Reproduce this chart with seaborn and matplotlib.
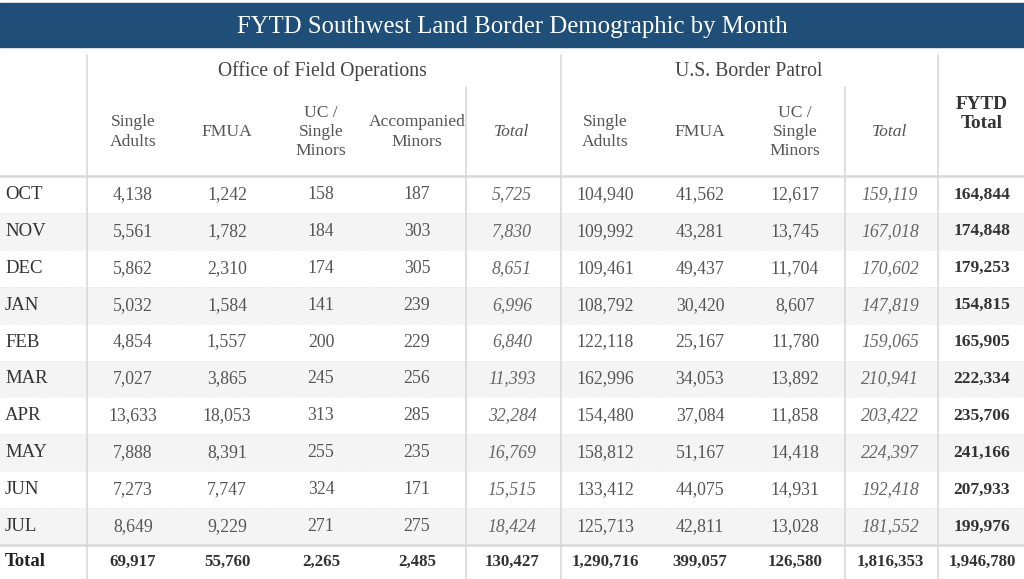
import matplotlib
matplotlib.use("Agg")
import matplotlib.pyplot as plt
import seaborn as sns
import numpy as np

sns.set_theme(style="white")
plt.rcParams['font.family'] = ['Liberation Serif', 'DejaVu Serif']

title = "FYTD Southwest Land Border Demographic by Month"
groups = ["Office of Field Operations", "U.S. Border Patrol"]
sub_headers = ["Single\nAdults", "FMUA", "UC /\nSingle\nMinors", "Accompanied\nMinors", "Total",
               "Single\nAdults", "FMUA", "UC /\nSingle\nMinors", "Total"]
fytd_header = "FYTD\nTotal"
months = ["OCT", "NOV", "DEC", "JAN", "FEB", "MAR", "APR", "MAY", "JUN", "JUL"]

ofo_single = [4138, 5561, 5862, 5032, 4854, 7027, 13633, 7888, 7273, 8649]
ofo_fmua = [1242, 1782, 2310, 1584, 1557, 3865, 18053, 8391, 7747, 9229]
ofo_uc = [158, 184, 174, 141, 200, 245, 313, 255, 324, 271]
ofo_acc = [187, 303, 305, 239, 229, 256, 285, 235, 171, 275]
ofo_total = [5725, 7830, 8651, 6996, 6840, 11393, 32284, 16769, 15515, 18424]
bp_single = [104940, 109992, 109461, 108792, 122118, 162996, 154480, 158812, 133412, 125713]
bp_fmua = [41562, 43281, 49437, 30420, 25167, 34053, 37084, 51167, 44075, 42811]
bp_uc = [12617, 13745, 11704, 8607, 11780, 13892, 11858, 14418, 14931, 13028]
bp_total = [159119, 167018, 170602, 147819, 159065, 210941, 203422, 224397, 192418, 181552]
fytd_total = [164844, 174848, 179253, 154815, 165905, 222334, 235706, 241166, 207933, 199976]
total_row = [69917, 55760, 2265, 2485, 130427, 1290716, 399057, 126580, 1816353, 1946780]

W, H = 1024, 579
fig = plt.figure(figsize=(W / 100, H / 100), dpi=100)

# Banded rows via seaborn heatmap
body_top, row_h = 176, 36.9
n = len(months)
ax_band = fig.add_axes([0, 1 - (body_top + n * row_h) / H, 1, n * row_h / H])
band = np.array([[i % 2] for i in range(n)])
sns.heatmap(band, ax=ax_band, cmap=["#ffffff", "#f4f4f4"], cbar=False,
            xticklabels=False, yticklabels=False, linewidths=0)

ax = fig.add_axes([0, 0, 1, 1])
ax.set_xlim(0, W)
ax.set_ylim(H, 0)
ax.axis("off")
ax.patch.set_alpha(0)

# Title bar
ax.add_patch(plt.Rectangle((0, 3), W, 44, color="#1f4e79", zorder=1))
ax.text(W / 2, 27, title, color="white", ha="center", va="center", fontsize=17.8)

line_c = "#d9d9d9"
for x in (87, 561, 938):
    ax.plot([x, x], [55, H], color=line_c, lw=1.2)
for x in (466, 845):
    ax.plot([x, x], [87, H], color=line_c, lw=1.2)
ax.plot([0, W], [176, 176], color=line_c, lw=1.8)
ax.plot([0, W], [545, 545], color=line_c, lw=1.8)
for i in range(1, n):
    y = body_top + i * row_h
    ax.plot([0, W], [y, y], color="#e6e6e6", lw=0.6, ls=":")

hdr_c = "#444444"
ax.text(322, 71, groups[0], ha="center", va="center", fontsize=14.2, color=hdr_c)
ax.text(749, 71, groups[1], ha="center", va="center", fontsize=14.2, color=hdr_c)

col_x = [133, 227, 321, 417, 512, 605, 700, 795, 890]
for i, (x, h) in enumerate(zip(col_x, sub_headers)):
    italic = h == "Total"
    ax.text(x, 132, h, ha="center", va="center", fontsize=12.6, color="#555555",
            style="italic" if italic else "normal", linespacing=1.25)
ax.text(982, 114, fytd_header, ha="center", va="center", fontsize=13.8,
        color="#333333", fontweight="bold", linespacing=1.2)

series = [ofo_single, ofo_fmua, ofo_uc, ofo_acc, ofo_total,
          bp_single, bp_fmua, bp_uc, bp_total]
for r, m in enumerate(months):
    y = body_top + (r + 0.5) * row_h
    ax.text(5, y, m, ha="left", va="center", fontsize=13.5, color="#333333")
    for c, (x, s) in enumerate(zip(col_x, series)):
        italic = c in (4, 8)
        ax.text(x, y, f"{s[r]:,}", ha="center", va="center", fontsize=12.8,
                color="#666666" if italic else "#555555",
                style="italic" if italic else "normal")
    ax.text(982, y, f"{fytd_total[r]:,}", ha="center", va="center", fontsize=12.6,
            color="#333333", fontweight="bold")

yt = 562
ax.text(5, yt, "Total", ha="left", va="center", fontsize=13.5, color="#222222", fontweight="bold")
for x, v in zip(col_x + [982], total_row):
    ax.text(x, yt, f"{v:,}", ha="center", va="center", fontsize=12.2,
            color="#333333", fontweight="bold")

fig.savefig("out.png", dpi=100)
